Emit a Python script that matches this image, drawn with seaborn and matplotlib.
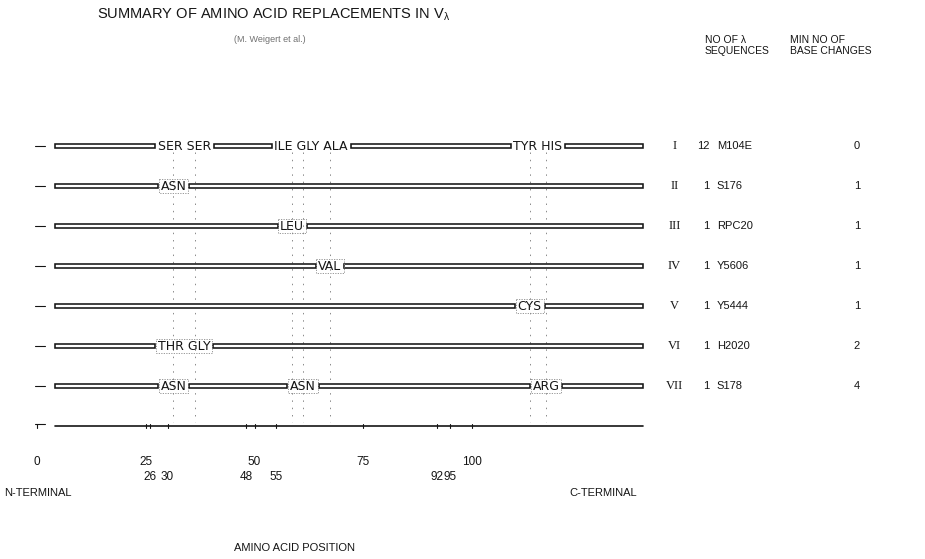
import matplotlib
matplotlib.use("Agg")
import matplotlib.pyplot as plt
import seaborn as sns

# ---- data ----
roman = ["I", "II", "III", "IV", "V", "VI", "VII"]
n_seq = [12, 1, 1, 1, 1, 1, 1]
protein = ["M104E", "S176", "RPC20", "Y5606", "Y5444", "H2020", "S178"]
base_changes = [0, 1, 1, 1, 1, 2, 4]

# residue groups per chain: (label, positions)
row_I = [("SER SER", [26, 30]), ("ILE GLY ALA", [48, 50, 55]), ("TYR HIS", [92, 95])]
row_II = [("ASN", [26])]
row_III = [("LEU", [48])]
row_IV = [("VAL", [55])]
row_V = [("CYS", [92])]
row_VI = [("THR GLY", [26, 30])]
row_VII = [("ASN", [26]), ("ASN", [50]), ("ARG", [95])]
replacements = [row_I, row_II, row_III, row_IV, row_V, row_VI, row_VII]

variable_positions = [26, 30, 48, 50, 55, 92, 95]
major_ticks = [0, 25, 50, 75, 100]
minor_ticks = [26, 30, 48, 55, 92, 95]
chain_start, chain_end = 4, 113

# ---- style ----
sns.set_theme(style="white")
plt.rcParams['font.family'] = ['Liberation Sans', 'DejaVu Sans']
plt.rcParams['mathtext.default'] = 'regular'
INK = '#151515'
FAINT = '#707070'

fig = plt.figure(figsize=(9.25, 5.59), dpi=100)
fig.patch.set_facecolor('white')

# chains are drawn on one scale (5.4 px / residue) ...
ax = fig.add_axes([0, 0, 1, 1])
ax.set_xlim(-33 / 5.4, (925 - 33) / 5.4)
ax.set_ylim((559 - 146) / 40, -146 / 40)
ax.axis('off')
# ... the printed position scale underneath is squeezed
ax_pos = fig.add_axes([0, 0, 1, 1], sharey=ax)
ax_pos.set_xlim(-37 / 4.35, (925 - 37) / 4.35)
ax_pos.axis('off')
ax_pos.patch.set_alpha(0)

axis_row = len(roman)

# faint dashed verticals through the variable positions
for p in variable_positions:
    ax.plot([p, p], [0.15, axis_row - 0.1], color='#8a8a8a', lw=0.7,
            dashes=(1.5, 6), zorder=1)

fig.canvas.draw()
renderer = fig.canvas.get_renderer()
inv = ax.transData.inverted()

bar_h = 0.1
for i, groups in enumerate(replacements):
    gaps = []
    for label, pos in groups:
        cx = (min(pos) + max(pos)) / 2
        t = ax.text(cx, i, label, ha='center', va='center', fontsize=9,
                    family='DejaVu Sans', color=INK, zorder=4)
        bb = t.get_window_extent(renderer)
        (xl, _), (xr, _) = inv.transform([(bb.x0, bb.y0), (bb.x1, bb.y1)])
        gaps.append((xl - 0.5, xr + 0.5))
        if i > 0:
            ax.add_patch(plt.Rectangle((xl - 0.35, i - 0.17), (xr - xl) + 0.7, 0.34,
                                       fill=False, ec='#8a8a8a', lw=0.6,
                                       ls=(0, (1.5, 1.5)), zorder=3))
    gaps.sort()
    edges = [chain_start]
    for a, b in gaps:
        edges += [a, b]
    edges.append(chain_end)
    lefts = edges[0::2]
    rights = edges[1::2]
    ax.barh([i] * len(lefts), [r - l for l, r in zip(lefts, rights)], left=lefts,
            height=bar_h, color='white', edgecolor=INK, linewidth=1.15, zorder=2)
    # little N-terminal stub
    ax.plot([0.4, 2.3], [i, i], color=INK, lw=0.8, zorder=2)

    # right-hand columns
    ax.text(118.8, i, roman[i], ha='center', va='center', fontsize=9,
            color=INK, family='Liberation Serif')
    ax.text(125.3, i, str(n_seq[i]), ha='right', va='center', fontsize=8, color=INK)
    ax.text(126.6, i, protein[i], ha='left', va='center', fontsize=8, color=INK)
    ax.text(152.6, i, str(base_changes[i]), ha='center', va='center', fontsize=8,
            color=INK)

# position axis: baseline runs the length of the chains
ax.plot([chain_start, chain_end], [axis_row, axis_row], color=INK, lw=1.2)
ax.plot([0.4, 2.3], [axis_row - 0.06, axis_row - 0.06], color=INK, lw=0.8)
for p in major_ticks + minor_ticks:
    ax_pos.plot([p, p], [axis_row - 0.06, axis_row + 0.06], color=INK, lw=0.8)
for p in major_ticks:
    ax_pos.text(p, axis_row + 0.9, str(p), ha='center', va='center', fontsize=8.5,
                color=INK)
for p in minor_ticks:
    ax_pos.text(p, axis_row + 1.27, str(p), ha='center', va='center', fontsize=8.5,
                color=INK)
ax.text(7.2, axis_row + 1.68, "N-TERMINAL", ha='right', va='center', fontsize=8,
        color=INK)
ax.text(99.4, axis_row + 1.68, "C-TERMINAL", ha='left', va='center', fontsize=8,
        color=INK)
ax.text(48.5, axis_row + 3.05, "AMINO ACID POSITION", ha='center', va='center',
        fontsize=8, color=INK)

# headings
fig.text(97 / 925, 1 - 15 / 559, r"SUMMARY OF AMINO ACID REPLACEMENTS IN V$_{\lambda}$",
         ha='left', va='center', fontsize=10.5, color=INK)
fig.text(270 / 925, 1 - 40 / 559, "(M. Weigert et al.)", ha='center', va='center',
         fontsize=6.5, color=FAINT)
fig.text(705 / 925, 1 - 40 / 559, "NO OF \u03bb", ha='left', va='center',
         fontsize=7.5, color=INK)
fig.text(705 / 925, 1 - 51 / 559, "SEQUENCES", ha='left', va='center',
         fontsize=7.5, color=INK)
fig.text(790 / 925, 1 - 40 / 559, "MIN NO OF", ha='left', va='center',
         fontsize=7.5, color=INK)
fig.text(790 / 925, 1 - 51 / 559, "BASE CHANGES", ha='left', va='center',
         fontsize=7.5, color=INK)

fig.savefig("out.png", dpi=100, facecolor='white')
